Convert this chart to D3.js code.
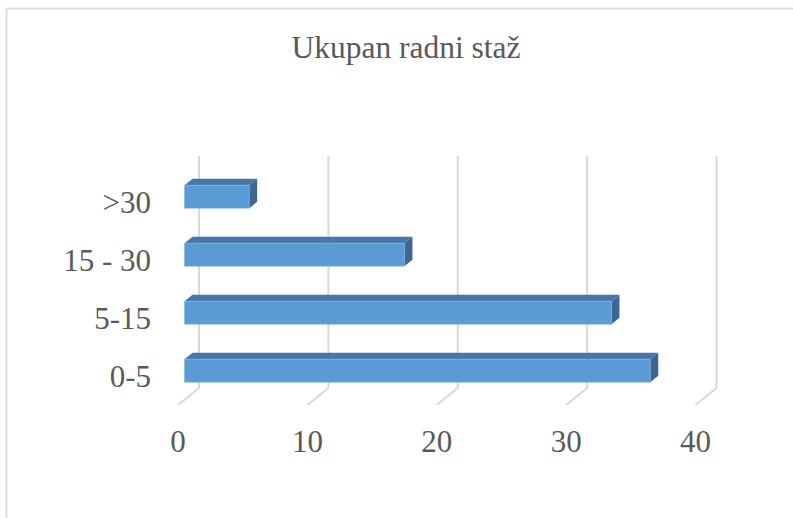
<!DOCTYPE html>
<html>
<head>
<meta charset="utf-8">
<script src="https://cdn.jsdelivr.net/npm/d3@7"></script>
<style>
  body { margin: 0; background: #fff; }
  text { font-family: "Liberation Serif", "Times New Roman", serif; fill: #595959; }
</style>
</head>
<body>
<div id="graf"></div>
<script>
// datos
categorias = ['>30', '15 - 30', '5-15', '0-5']
valores = [5, 17, 33, 36]
ticks = [0, 10, 20, 30, 40]
titulo = 'Ukupan radni staž'

ancho_total = 793
alto_total = 518

svg = d3.select('#graf').append('svg')
        .attr('width', ancho_total)
        .attr('height', alto_total)

// marco
svg.append('rect')
        .attr('x', 6.5).attr('y', 8.5)
        .attr('width', 820).attr('height', 560)
        .attr('fill', 'none')
        .attr('stroke', '#d9d9d9')
        .attr('stroke-width', 1.7)

svg.append('text')
        .attr('x', 406).attr('y', 58)
        .attr('text-anchor', 'middle')
        .style('font-size', '31.5px')
        .text(titulo)

// escaladores (plano del fondo)
x = d3.scaleLinear().domain([0, 40]).range([199, 716.5])
y = d3.scaleBand().domain(categorias).range([156, 388])

// profundidad 3D
prof = { dx: -21, dy: 17 }
f0 = 0.31, f1 = 0.69
altoBarra = 23

g = svg.append('g')

// lineas de la cuadricula + suelo
g.selectAll('.grid')
        .data(ticks)
        .enter().append('path')
        .attr('class', 'grid')
        .attr('fill', 'none')
        .attr('stroke', '#d9d9d9')
        .attr('stroke-width', 2)
        .attr('d', d => `M${x(d)},${y.range()[0]} L${x(d)},${y.range()[1]} L${x(d) + prof.dx},${y.range()[1] + prof.dy}`)

// etiquetas eje x
g.selectAll('.tick-x')
        .data(ticks)
        .enter().append('text')
        .attr('class', 'tick-x')
        .attr('x', d => x(d) + prof.dx)
        .attr('y', 452)
        .attr('text-anchor', 'middle')
        .style('font-size', '31px')
        .text(d => d)

// etiquetas categorias
g.selectAll('.cat')
        .data(categorias)
        .enter().append('text')
        .attr('class', 'cat')
        .attr('x', 151)
        .attr('y', d => y(d) + y.bandwidth() / 2 + prof.dy + 10.5)
        .attr('text-anchor', 'end')
        .style('font-size', '31px')
        .text(d => d)

datos = categorias.map((c, i) => ({ cat: c, valor: valores[i] }))

function pt(px, py, f) {
        return [px + f * prof.dx, py + f * prof.dy]
}

barras = g.selectAll('.barra')
        .data(datos)
        .enter().append('g')
        .attr('class', 'barra')

barras.each(function (d) {
        const b = d3.select(this)
        const x0 = x(0), x1 = x(d.valor)
        const cy = y(d.cat) + y.bandwidth() / 2
        const top = cy - altoBarra / 2, bot = cy + altoBarra / 2
        const linea = d3.line()

        // cara superior
        b.append('path')
                .attr('fill', '#4677a6')
                .attr('d', linea([pt(x0, top, f0), pt(x1, top, f0), pt(x1, top, f1), pt(x0, top, f1)]) + 'Z')
        // cara lateral
        b.append('path')
                .attr('fill', '#3b6790')
                .attr('d', linea([pt(x1, top, f0), pt(x1, bot, f0), pt(x1, bot, f1), pt(x1, top, f1)]) + 'Z')
        // cara frontal
        b.append('path')
                .attr('fill', '#5b9bd5')
                .attr('stroke', '#7fb2e0')
                .attr('stroke-width', 0.6)
                .attr('d', linea([pt(x0, top, f1), pt(x1, top, f1), pt(x1, bot, f1), pt(x0, bot, f1)]) + 'Z')
})
</script>
</body>
</html>
